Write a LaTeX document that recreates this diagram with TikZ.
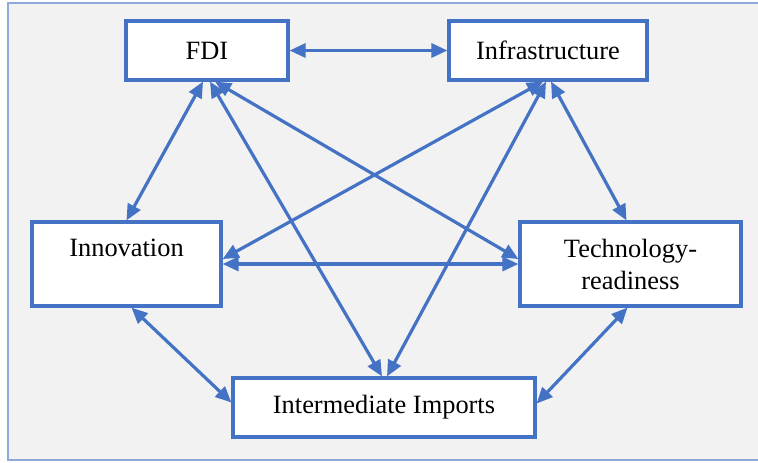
\documentclass[tikz,border=0pt]{standalone}
\usepackage{fontspec}
\setmainfont{Liberation Serif}
\definecolor{linkblue}{RGB}{68,114,196}
\definecolor{panelgray}{RGB}{242,242,242}
\definecolor{panelblue}{RGB}{142,169,219}
\usetikzlibrary{arrows.meta, calc}

\begin{document}
\begin{tikzpicture}[x=0.5pt, y=-0.5pt,
  factor/.style={draw=linkblue, fill=white, line width=1.6pt, align=center, inner sep=0pt, font=\fontsize{13.2}{16}\selectfont},
  link/.style={draw=linkblue, line width=1.6pt, {Triangle[length=8pt,width=7pt]}-{Triangle[length=8pt,width=7pt]}}]
  \useasboundingbox (0,0) rectangle (758,462);
  % Background panel
  \draw[panelblue, fill=panelgray, line width=1pt] (8,3) rectangle (770,460);

  % Five factor boxes
  \node[factor, minimum width=81pt, minimum height=29.5pt] (FDI) at (207,50.5) {FDI};
  \node[factor, minimum width=99pt, minimum height=29.5pt] (Infra) at (548,50.5) {Infrastructure};
  \node[factor, minimum width=94.5pt, minimum height=42pt] (Inno) at (126.5,264) {Innovation\\~};
  \node[factor, minimum width=110.5pt, minimum height=42pt] (Tech) at (630.5,264) {Technology-\\readiness};
  \node[factor, minimum width=151pt, minimum height=29.5pt] (Imports) at (384,407.5) {Intermediate Imports};

  % Links between the factors
  \draw[link] (FDI.east) -- (Infra.west);
  \draw[link] ($(FDI.south)+(-4,0)$) -- (Inno.north);
  \draw[link] ($(FDI.south)+(3,0)$) -- ($(Imports.north)+(-2,0)$);
  \draw[link] ($(FDI.south)+(8,0)$) -- ($(Tech.west)+(0,-5)$);
  \draw[link] ($(Infra.south)+(-5,0)$) -- ($(Inno.east)+(0,-5)$);
  \draw[link] ($(Infra.south)+(-2,0)$) -- ($(Imports.north)+(3,0)$);
  \draw[link] ($(Infra.south)+(3,0)$) -- ($(Tech.north)+(-4,0)$);
  \draw[link] (Inno.east) -- (Tech.west);
  \draw[link] ($(Inno.south)+(5,0)$) -- ($(Imports.west)+(0,-5)$);
  \draw[link] ($(Tech.south)+(-3,0)$) -- ($(Imports.east)+(0,-4)$);
\end{tikzpicture}
\end{document}
